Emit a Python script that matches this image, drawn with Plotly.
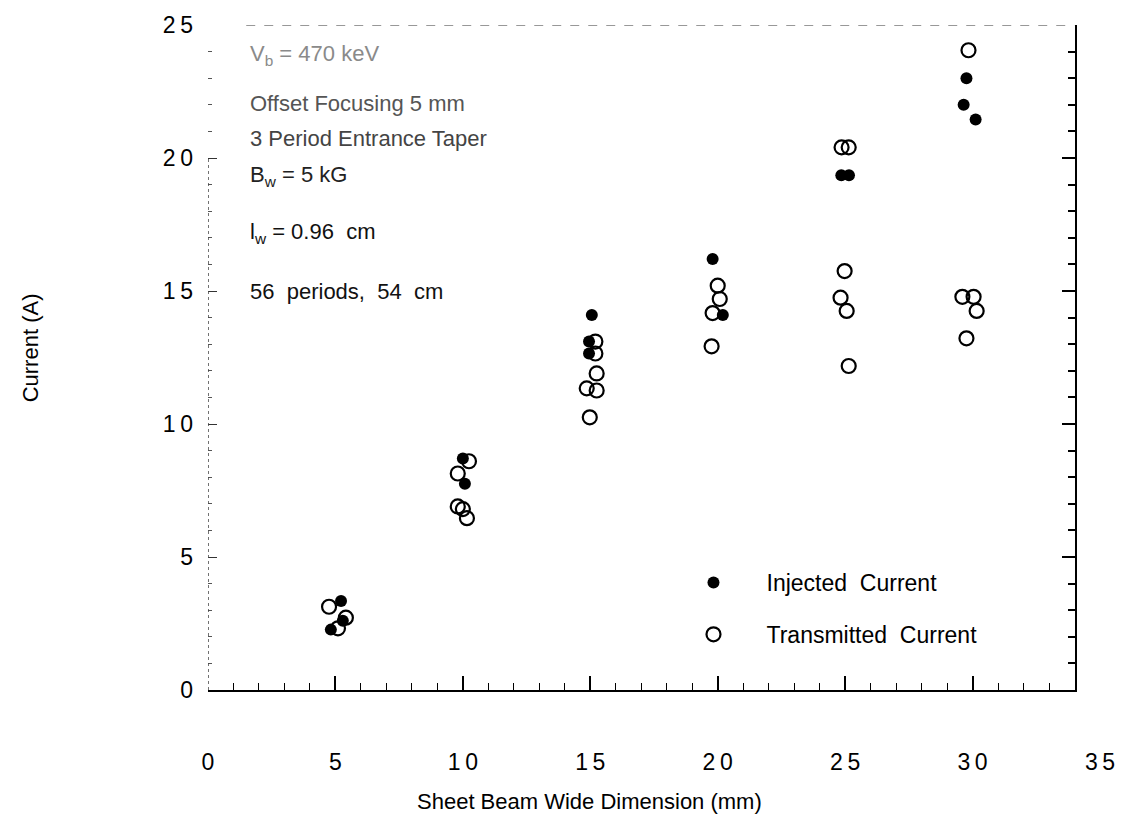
import plotly.graph_objects as go

# Sheet-beam transport measurements: current vs. sheet beam wide dimension
inj_x = [5.22, 4.82, 5.29, 10.0, 10.08, 15.06, 14.95, 14.95, 19.8, 20.2,
         24.85, 25.15, 29.76, 29.65, 30.12]
inj_y = [3.35, 2.27, 2.6, 8.7, 7.75, 14.1, 13.1, 12.65, 16.2, 14.1,
         19.35, 19.35, 23.0, 22.0, 21.45]

tr_x = [4.75, 5.41, 5.1, 10.24, 9.8, 9.8, 10.0, 10.16, 15.2, 15.2, 15.25,
        14.86, 15.25, 14.98, 20.0, 20.08, 19.8, 19.76, 24.86, 25.14, 24.98,
        24.82, 25.06, 25.14, 29.84, 29.6, 30.04, 30.16, 29.76]
tr_y = [3.13, 2.72, 2.32, 8.6, 8.14, 6.9, 6.8, 6.46, 13.1, 12.65, 11.9,
        11.34, 11.26, 10.25, 15.2, 14.7, 14.17, 12.92, 20.4, 20.4, 15.75,
        14.75, 14.25, 12.18, 24.05, 14.78, 14.78, 14.25, 13.22]

x_ticks = [0, 5, 10, 15, 20, 25, 30, 35]
y_ticks = [0, 5, 10, 15, 20, 25]
X_MAX = 34
Y_MAX = 25

notes = [
    ("V<sub>b</sub> = 470 keV", 22, "#8a8a8a"),
    ("Offset Focusing 5 mm", 22, "#555"),
    ("3 Period Entrance Taper", 22, "#444"),
    ("B<sub>w</sub> = 5 kG", 22, "#222"),
    ("l<sub>w</sub> = 0.96  cm", 22, "#111"),
    ("56  periods,  54  cm", 22, "#111"),
]
note_y = [45, 95, 130, 168, 226, 285]

FONT = "Liberation Sans, Arial, sans-serif"
W, H = 1127, 820
ML, MR, MT, MB = 208, 26, 15, 130
PW, PH = W - ML - MR, H - MT - MB


def spaced(v):
    return "\u2009".join(str(v))


fig = go.Figure()
fig.add_trace(go.Scatter(
    x=inj_x, y=inj_y, mode="markers", name="Injected\u00a0\u00a0Current",
    legendgroup="a",
    marker=dict(symbol="circle", size=12, color="black"),
))
fig.add_trace(go.Scatter(
    x=tr_x, y=tr_y, mode="markers", name="Transmitted\u00a0\u00a0Current",
    legendgroup="b",
    marker=dict(symbol="circle-open", size=14, color="black",
                line=dict(width=2.2)),
))
# helper traces so the label-only x axis and the right-hand tick axis render
fig.add_trace(go.Scatter(x=[], y=[], xaxis="x2", yaxis="y",
                         showlegend=False, hoverinfo="skip"))
fig.add_trace(go.Scatter(x=[], y=[], xaxis="x", yaxis="y2",
                         showlegend=False, hoverinfo="skip"))

x_end = (X_MAX / 35.0)

fig.update_layout(
    width=W, height=H,
    margin=dict(l=ML, r=MR, t=MT, b=MB),
    paper_bgcolor="white", plot_bgcolor="rgba(0,0,0,0)",
    font=dict(family=FONT, color="black"),
    xaxis=dict(
        domain=[0, x_end], range=[0, X_MAX], showgrid=False, zeroline=False,
        showline=True, linecolor="black", linewidth=2,
        ticks="inside", tickmode="array", tickvals=x_ticks[:-1],
        ticklen=14, tickwidth=1.5, tickcolor="black",
        minor=dict(dtick=1, tick0=0, ticks="inside", ticklen=7,
                   tickwidth=1.3, tickcolor="black", showgrid=False),
        showticklabels=False,
    ),
    xaxis2=dict(
        domain=[0, 1], range=[0, 35], anchor="y", showgrid=False,
        zeroline=False, showline=False, ticks="",
        tickmode="array", tickvals=x_ticks,
        ticktext=[spaced(v) for v in x_ticks],
        tickfont=dict(size=23, family=FONT), ticklabelstandoff=56,
    ),
    yaxis=dict(
        range=[0, Y_MAX], showgrid=False, zeroline=False, showline=False,
        ticks="inside", tickmode="array", tickvals=y_ticks,
        ticktext=[spaced(v) for v in y_ticks],
        ticklen=9, tickwidth=1.2, tickcolor="#333",
        minor=dict(dtick=1, tick0=0, ticks="inside", ticklen=4,
                   tickwidth=1, tickcolor="#555", showgrid=False),
        tickfont=dict(size=23, family=FONT), ticklabelstandoff=14,
    ),
    yaxis2=dict(
        range=[0, Y_MAX], overlaying="y", side="right", anchor="x",
        showgrid=False, zeroline=False, showline=True, linecolor="black",
        linewidth=1.8, ticks="inside", tickmode="array", tickvals=y_ticks,
        ticklen=13, tickwidth=1.8, tickcolor="black",
        minor=dict(dtick=1, tick0=0, ticks="inside", ticklen=7,
                   tickwidth=1.5, tickcolor="black", showgrid=False),
        showticklabels=False,
    ),
    legend=dict(
        x=(661 - ML) / PW, y=1 - (559 - MT) / PH, xanchor="left",
        yanchor="top", bgcolor="rgba(0,0,0,0)", borderwidth=0,
        font=dict(size=23, family=FONT), itemwidth=96,
        tracegroupgap=19,
    ),
    showlegend=True,
)

# dashed left axis and broken top edge of the frame
fig.add_shape(type="line", xref="x", yref="y", x0=0, x1=0, y0=0, y1=Y_MAX * 0.8,
              line=dict(color="#444", width=1.5, dash="dot"))
fig.add_shape(type="line", xref="x", yref="y", x0=1.5, x1=X_MAX, y0=Y_MAX, y1=Y_MAX,
              line=dict(color="#777", width=1.5, dash="dash"))

for (txt, size, col), py in zip(notes, note_y):
    fig.add_annotation(
        text=txt, xref="paper", yref="paper", x=(248 - ML) / PW,
        y=1 - (py - MT) / PH, xanchor="left", yanchor="middle",
        showarrow=False, font=dict(size=size, color=col, family=FONT),
    )

fig.add_annotation(
    text="Sheet Beam Wide Dimension (mm)", xref="paper", yref="paper",
    x=(590 - ML) / PW, y=-(803 - MT - PH) / PH, xanchor="center",
    yanchor="middle", showarrow=False, font=dict(size=22, family=FONT),
)
fig.add_annotation(
    text="Current (A)", xref="paper", yref="paper", x=(30 - ML) / PW,
    y=1 - (343 - MT) / PH, xanchor="center", yanchor="middle",
    textangle=-90, showarrow=False, font=dict(size=22, family=FONT),
)

fig.write_html("out.html")
